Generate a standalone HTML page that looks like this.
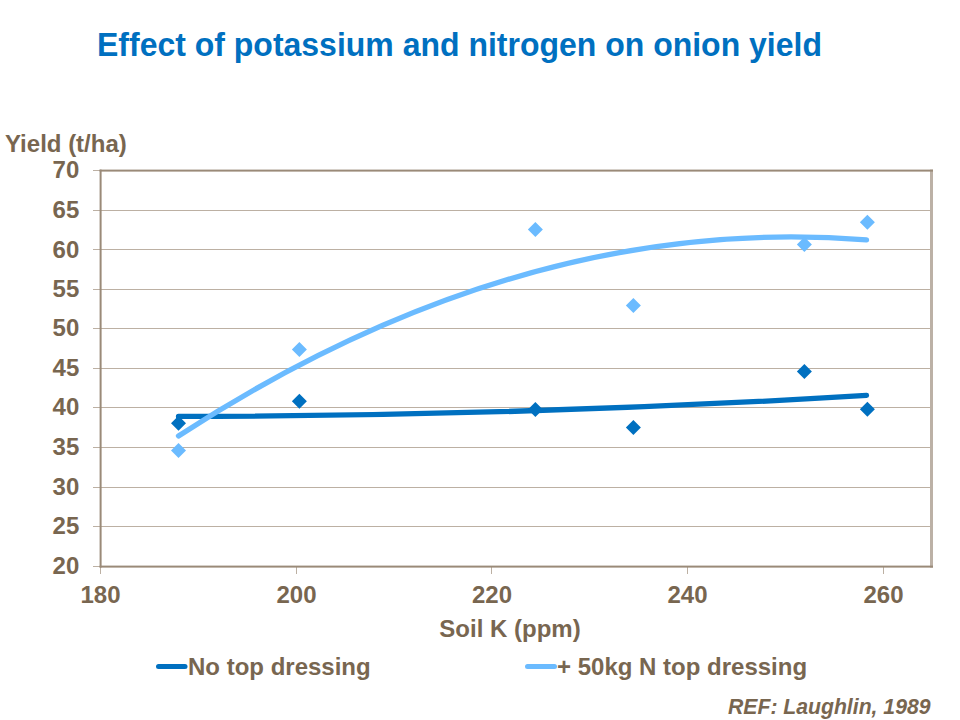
<!DOCTYPE html>
<html><head><meta charset="utf-8">
<style>
html,body{margin:0;padding:0;background:#fff;width:960px;height:720px;overflow:hidden}
svg{position:absolute;left:0;top:0}
text{font-family:"Liberation Sans",sans-serif;font-weight:bold}
.br{fill:#786650}
</style></head><body>
<svg width="960" height="720" viewBox="0 0 960 720">
<!-- title -->
<text transform="translate(97 55.6) scale(1 1.035)" x="0" y="0" font-size="32" fill="#0070C0">Effect of potassium and nitrogen on onion yield</text>
<!-- gridlines -->
<g stroke="#BCB0A3" stroke-width="1">
<line x1="93" y1="210.5" x2="931" y2="210.5"/>
<line x1="93" y1="249.5" x2="931" y2="249.5"/>
<line x1="93" y1="289.5" x2="931" y2="289.5"/>
<line x1="93" y1="328.5" x2="931" y2="328.5"/>
<line x1="93" y1="368.5" x2="931" y2="368.5"/>
<line x1="93" y1="407.5" x2="931" y2="407.5"/>
<line x1="93" y1="447.5" x2="931" y2="447.5"/>
<line x1="93" y1="487.5" x2="931" y2="487.5"/>
<line x1="93" y1="526.5" x2="931" y2="526.5"/>
<line x1="93" y1="170.5" x2="100" y2="170.5"/>
<line x1="93" y1="566.5" x2="100" y2="566.5"/>
<line x1="100.5" y1="566" x2="100.5" y2="574"/>
<line x1="296.5" y1="566" x2="296.5" y2="574"/>
<line x1="491.5" y1="566" x2="491.5" y2="574"/>
<line x1="687.5" y1="566" x2="687.5" y2="574"/>
<line x1="883.5" y1="566" x2="883.5" y2="574"/>
</g>
<!-- plot box -->
<rect x="930" y="169.6" width="3" height="398" fill="#BCB1A6"/>
<g fill="#9A8A78"><rect x="99.6" y="169.6" width="833.4" height="2"/><rect x="99.6" y="565.6" width="833.4" height="2"/><rect x="99.6" y="169.6" width="2" height="398"/></g>
<!-- trendlines -->
<path fill="none" stroke="#0070C0" stroke-width="5.3" stroke-linecap="round" d="M178.50 416.39 Q522.50 416.25 866.50 395.47"/>
<path fill="none" stroke="#6BBBFF" stroke-width="5.3" stroke-linecap="round" d="M178.50 435.93 Q522.50 212.43 866.50 239.94"/>
<!-- markers -->
<g fill="#0070C0">
<path d="M178.5 415.8 l7.5 7.5 l-7.5 7.5 l-7.5 -7.5 Z"/>
<path d="M299.4 393.8 l7.5 7.5 l-7.5 7.5 l-7.5 -7.5 Z"/>
<path d="M535.4 401.9 l7.5 7.5 l-7.5 7.5 l-7.5 -7.5 Z"/>
<path d="M633.4 420 l7.5 7.5 l-7.5 7.5 l-7.5 -7.5 Z"/>
<path d="M804.4 363.9 l7.5 7.5 l-7.5 7.5 l-7.5 -7.5 Z"/>
<path d="M867.4 401.7 l7.5 7.5 l-7.5 7.5 l-7.5 -7.5 Z"/>
</g>
<g fill="#6BBBFF">
<path d="M178.5 443.1 l7.5 7.5 l-7.5 7.5 l-7.5 -7.5 Z"/>
<path d="M299.4 341.9 l7.5 7.5 l-7.5 7.5 l-7.5 -7.5 Z"/>
<path d="M535.4 221.9 l7.5 7.5 l-7.5 7.5 l-7.5 -7.5 Z"/>
<path d="M633.4 297.9 l7.5 7.5 l-7.5 7.5 l-7.5 -7.5 Z"/>
<path d="M804.4 237 l7.5 7.5 l-7.5 7.5 l-7.5 -7.5 Z"/>
<path d="M867.4 214.8 l7.5 7.5 l-7.5 7.5 l-7.5 -7.5 Z"/>
</g>
<!-- axis labels -->
<g class="br" font-size="24">
<text x="5" y="152">Yield (t/ha)</text>
</g>
<g class="br" font-size="24" text-anchor="end">
<text x="79.3" y="177.5">70</text>
<text x="79.3" y="217.5">65</text>
<text x="79.3" y="257.5">60</text>
<text x="79.3" y="297">55</text>
<text x="79.3" y="336">50</text>
<text x="79.3" y="375.7">45</text>
<text x="79.3" y="415.3">40</text>
<text x="79.3" y="455">35</text>
<text x="79.3" y="494.7">30</text>
<text x="79.3" y="534.2">25</text>
<text x="79.3" y="573.8">20</text>
</g>
<g class="br" font-size="24" text-anchor="middle">
<text x="100.5" y="603">180</text>
<text x="296.5" y="603">200</text>
<text x="492" y="603">220</text>
<text x="687.5" y="603">240</text>
<text x="883.5" y="603">260</text>
<text x="510" y="636.5">Soil K (ppm)</text>
</g>
<!-- legend -->
<line x1="158.5" y1="666.6" x2="185" y2="666.6" stroke="#0070C0" stroke-width="5" stroke-linecap="round"/>
<text class="br" x="188" y="675" font-size="24">No top dressing</text>
<line x1="527.5" y1="666.6" x2="554.5" y2="666.6" stroke="#6BBBFF" stroke-width="5" stroke-linecap="round"/>
<text class="br" x="557" y="675" font-size="24">+ 50kg N top dressing</text>
<text class="br" x="930.5" y="714.2" font-size="21.2" font-style="italic" text-anchor="end">REF: Laughlin, 1989</text>
</svg>
</body></html>
